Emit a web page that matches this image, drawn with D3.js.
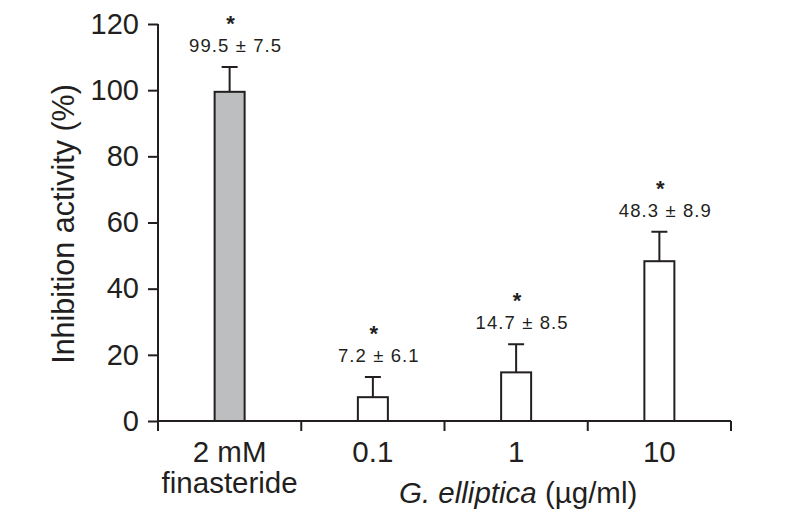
<!DOCTYPE html>
<html>
<head>
<meta charset="utf-8">
<script src="https://cdn.jsdelivr.net/npm/d3@7"></script>
<style>
  html, body { margin: 0; padding: 0; background: #fff; }
  svg { display: block; font-family: "Liberation Sans", Arial, Helvetica, sans-serif; }
</style>
</head>
<body>
<svg id="chart" width="792" height="528"></svg>
<script>
// ---- data ----
const categories = ["2 mM finasteride", "0.1", "1", "10"];
const categoryLines = [["2 mM", "finasteride"], ["0.1"], ["1"], ["10"]];
const means = [99.5, 7.2, 14.7, 48.3];
const errors = [7.5, 6.1, 8.5, 8.9];
const annotations = ["99.5 ± 7.5", "7.2 ± 6.1", "14.7 ± 8.5", "48.3 ± 8.9"];
const significant = [true, true, true, true];
const fills = ["#bcbec0", "#ffffff", "#ffffff", "#ffffff"];
const yTicks = [0, 20, 40, 60, 80, 100, 120];
const yTitle = "Inhibition activity (%)";

// ---- layout ----
const ink = "#231f20";
const svg = d3.select("#chart");
const x = d3.scaleBand().domain(categories).range([158, 731]).padding(0);
const y = d3.scaleLinear().domain([0, 120]).range([421, 24]);
const barW = 30;

// y axis
const yAxis = svg.append("g")
  .attr("transform", "translate(158,0)")
  .call(d3.axisLeft(y).tickValues(yTicks).tickSize(10).tickPadding(9));
yAxis.select(".domain").attr("stroke", ink).attr("stroke-width", 2)
  .attr("d", `M0,${y(120)}V${y(0)}`);
yAxis.selectAll(".tick line").attr("stroke", ink).attr("stroke-width", 2);
yAxis.selectAll(".tick text").attr("fill", ink).attr("font-size", 29)
  .attr("font-family", "Liberation Sans, Arial, sans-serif");

// x axis: ticks at band boundaries
const xAxisG = svg.append("g").attr("transform", `translate(0,${y(0)})`);
xAxisG.append("line").attr("x1", x.range()[0]).attr("x2", x.range()[1])
  .attr("stroke", ink).attr("stroke-width", 2);
const bounds = categories.map(c => x(c)).concat([x.range()[1]]);
xAxisG.selectAll("line.tk").data(bounds).join("line").attr("class", "tk")
  .attr("x1", d => d).attr("x2", d => d).attr("y1", 0).attr("y2", 10)
  .attr("stroke", ink).attr("stroke-width", 2);

// category labels
categories.forEach((c, i) => {
  const t = svg.append("text")
    .attr("x", x(c) + x.bandwidth() / 2)
    .attr("text-anchor", "middle")
    .attr("font-size", 29.5).attr("fill", ink);
  categoryLines[i].forEach((line, j) => {
    t.append("tspan").attr("x", x(c) + x.bandwidth() / 2)
      .attr("y", 462 + j * 31).text(line);
  });
});

// x title (G. elliptica)
const gCenter = (x(categories[1]) + x(categories[3]) + x.bandwidth()) / 2;
const xt = svg.append("text").attr("x", gCenter + 2).attr("y", 503)
  .attr("text-anchor", "middle").attr("font-size", 29.5).attr("fill", ink);
xt.append("tspan").attr("font-style", "italic").text("G. elliptica");
xt.append("tspan").text(" (µg/ml)");

// y title
svg.append("text")
  .attr("transform", "translate(74,224) rotate(-90)")
  .attr("text-anchor", "middle").attr("font-size", 30.5).attr("fill", ink)
  .text(yTitle);

// bars
svg.selectAll("rect.bar").data(categories).join("rect").attr("class", "bar")
  .attr("x", d => x(d) + x.bandwidth() / 2 - barW / 2)
  .attr("width", barW)
  .attr("y", (d, i) => y(means[i]))
  .attr("height", (d, i) => y(0) - y(means[i]))
  .attr("fill", (d, i) => fills[i])
  .attr("stroke", ink).attr("stroke-width", 2);

// error bars (upper only)
categories.forEach((c, i) => {
  const cx = x(c) + x.bandwidth() / 2;
  const top = y(means[i] + errors[i]);
  svg.append("line").attr("x1", cx).attr("x2", cx)
    .attr("y1", y(means[i])).attr("y2", top)
    .attr("stroke", ink).attr("stroke-width", 2);
  svg.append("line").attr("x1", cx - 8).attr("x2", cx + 8)
    .attr("y1", top).attr("y2", top)
    .attr("stroke", ink).attr("stroke-width", 2);
  // annotation
  svg.append("text").attr("x", cx + 6).attr("y", top - 15)
    .attr("text-anchor", "middle").attr("font-size", 18.5)
    .attr("letter-spacing", 1.1).attr("fill", ink)
    .text(annotations[i]);
  if (significant[i]) {
    svg.append("text").attr("x", cx + 1).attr("y", top - 36)
      .attr("text-anchor", "middle").attr("font-size", 22)
      .attr("font-weight", "bold").attr("fill", ink)
      .text("*");
  }
});
</script>
</body>
</html>
